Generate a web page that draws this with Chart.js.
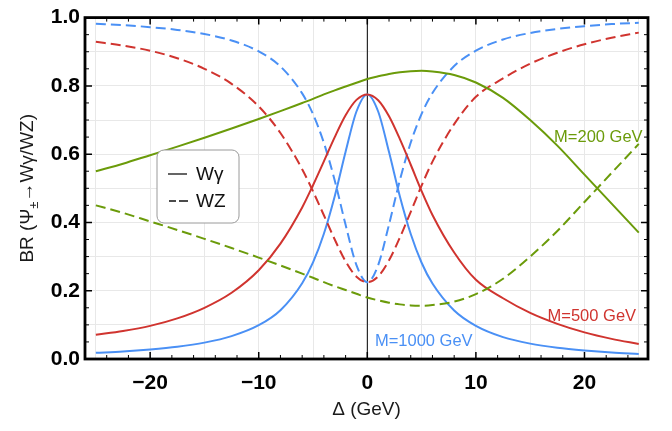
<!DOCTYPE html>
<html>
<head>
<meta charset="utf-8">
<script src="https://cdn.jsdelivr.net/npm/chart.js@4.4.1/dist/chart.umd.min.js"></script>
<style>
  html, body { margin: 0; padding: 0; background: #fff; }
  #wrap { width: 672px; height: 431px; }
</style>
</head>
<body>
<div id="wrap"><canvas id="brChart" width="672" height="431"></canvas></div>
<script>
// mass splitting values (GeV)
const deltas = [-25, -22.5, -20, -17.5, -15, -12.5, -10, -8, -6, -5, -4, -3, -2, -1, 0,
                1, 2, 3, 4, 5, 6, 8, 10, 12.5, 15, 17.5, 20, 22.5, 25];

// M = 200 GeV
const wg200 = [0.550, 0.572, 0.597, 0.622, 0.648, 0.675, 0.703, 0.726, 0.750, 0.762, 0.775, 0.787, 0.798, 0.809, 0.820,
               0.828, 0.835, 0.840, 0.843, 0.844, 0.842, 0.832, 0.810, 0.765, 0.700, 0.625, 0.540, 0.455, 0.370];
const wz200 = [0.450, 0.428, 0.403, 0.378, 0.352, 0.325, 0.297, 0.274, 0.250, 0.238, 0.225, 0.213, 0.202, 0.191, 0.180,
               0.172, 0.165, 0.160, 0.157, 0.156, 0.158, 0.168, 0.190, 0.235, 0.300, 0.375, 0.460, 0.545, 0.630];

// M = 500 GeV
const wg500 = [0.071, 0.082, 0.097, 0.119, 0.150, 0.194, 0.260, 0.338, 0.444, 0.509, 0.579, 0.650, 0.714, 0.759, 0.775,
               0.758, 0.711, 0.644, 0.569, 0.492, 0.422, 0.312, 0.232, 0.178, 0.135, 0.103, 0.078, 0.059, 0.044];
const wz500 = [0.929, 0.918, 0.903, 0.881, 0.850, 0.806, 0.740, 0.662, 0.556, 0.491, 0.421, 0.350, 0.286, 0.241, 0.225,
               0.242, 0.289, 0.356, 0.431, 0.508, 0.578, 0.688, 0.768, 0.822, 0.865, 0.897, 0.922, 0.941, 0.956];

// M = 1000 GeV
const wg1000 = [0.018, 0.022, 0.028, 0.036, 0.048, 0.067, 0.099, 0.143, 0.222, 0.283, 0.367, 0.477, 0.607, 0.725, 0.775,
                0.725, 0.606, 0.476, 0.366, 0.282, 0.221, 0.142, 0.097, 0.064, 0.045, 0.033, 0.025, 0.019, 0.015];
const wz1000 = [0.982, 0.978, 0.972, 0.964, 0.952, 0.933, 0.901, 0.857, 0.778, 0.717, 0.633, 0.523, 0.393, 0.275, 0.225,
                0.275, 0.394, 0.524, 0.634, 0.718, 0.779, 0.858, 0.903, 0.936, 0.955, 0.967, 0.975, 0.981, 0.985];

const xTickValues = [-25, -20, -15, -10, -5, 0, 5, 10, 15, 20, 25];
const massLabels = ["M=200 GeV", "M=500 GeV", "M=1000 GeV"];
const legendLabels = ["Wγ", "WZ"];

const green = "rgb(107,155,10)";
const red = "rgb(208,52,47)";
const blue = "rgb(74,144,245)";

Chart.defaults.font.family = "'Liberation Sans', Arial, sans-serif";

function pts(vals) {
    return deltas.map((d, i) => ({ x: d, y: vals[i] }));
}

function line(vals, color, dashed) {
    return {
        data: pts(vals),
        borderColor: color,
        borderWidth: 2,
        borderDash: dashed ? [10, 5] : [],
        pointRadius: 0,
        fill: false,
        cubicInterpolationMode: "monotone"
    };
}

const decorations = {
    id: "decorations",
    beforeDatasetsDraw(chart) {
        const ctx = chart.ctx, a = chart.chartArea;
        const x0 = chart.scales.x.getPixelForValue(0);
        ctx.save();
        ctx.strokeStyle = "#000";
        ctx.lineWidth = 1;
        ctx.beginPath();
        ctx.moveTo(x0, a.top);
        ctx.lineTo(x0, a.bottom);
        ctx.stroke();
        ctx.restore();
    },
    afterDraw(chart) {
        const ctx = chart.ctx, a = chart.chartArea;
        const xs = chart.scales.x, ys = chart.scales.y;
        ctx.save();

        // ticks pointing inwards on all four sides
        ctx.strokeStyle = "#000";
        for (let v = -24; v <= 24; v += 2) {
            const px = xs.getPixelForValue(v);
            const len = v % 10 === 0 ? 7 : 4;
            ctx.lineWidth = v % 10 === 0 ? 1.5 : 1;
            ctx.beginPath();
            ctx.moveTo(px, a.bottom); ctx.lineTo(px, a.bottom - len);
            ctx.moveTo(px, a.top); ctx.lineTo(px, a.top + len);
            ctx.stroke();
        }
        for (let k = 1; k < 20; k++) {
            const py = ys.getPixelForValue(k * 0.05);
            const len = k % 4 === 0 ? 7 : 4;
            ctx.lineWidth = k % 4 === 0 ? 1.5 : 1;
            ctx.beginPath();
            ctx.moveTo(a.left, py); ctx.lineTo(a.left + len, py);
            ctx.moveTo(a.right, py); ctx.lineTo(a.right - len, py);
            ctx.stroke();
        }

        // frame
        ctx.lineWidth = 2.8;
        ctx.strokeRect(a.left, a.top, a.right - a.left, a.bottom - a.top);

        // curve labels
        ctx.font = "16.5px 'Liberation Sans', Arial, sans-serif";
        ctx.textBaseline = "middle";
        ctx.textAlign = "left";
        ctx.fillStyle = green;
        ctx.fillText(massLabels[0], xs.getPixelForValue(17.2), ys.getPixelForValue(0.650));
        ctx.fillStyle = red;
        ctx.fillText(massLabels[1], xs.getPixelForValue(16.6), ys.getPixelForValue(0.125));
        ctx.fillStyle = blue;
        ctx.fillText(massLabels[2], xs.getPixelForValue(0.7), ys.getPixelForValue(0.052));

        // legend box
        const bx = 157, by = 150, bw = 82, bh = 73, r = 7;
        ctx.beginPath();
        ctx.moveTo(bx + r, by);
        ctx.arcTo(bx + bw, by, bx + bw, by + bh, r);
        ctx.arcTo(bx + bw, by + bh, bx, by + bh, r);
        ctx.arcTo(bx, by + bh, bx, by, r);
        ctx.arcTo(bx, by, bx + bw, by, r);
        ctx.closePath();
        ctx.fillStyle = "#fff";
        ctx.fill();
        ctx.strokeStyle = "#9a9a9a";
        ctx.lineWidth = 1;
        ctx.stroke();

        ctx.strokeStyle = "#111";
        ctx.lineWidth = 1.3;
        ctx.beginPath();
        ctx.moveTo(168, 174); ctx.lineTo(187, 174);
        ctx.stroke();
        ctx.beginPath();
        ctx.moveTo(169, 201); ctx.lineTo(176, 201);
        ctx.moveTo(179, 201); ctx.lineTo(188, 201);
        ctx.stroke();
        ctx.fillStyle = "#111";
        ctx.font = "19px 'Liberation Sans', Arial, sans-serif";
        ctx.textBaseline = "alphabetic";
        ctx.fillText(legendLabels[0], 196, 180);
        ctx.fillText(legendLabels[1], 196, 207);

        // y axis title with subscript
        ctx.translate(28, (a.top + a.bottom) / 2);
        ctx.rotate(-Math.PI / 2);
        ctx.fillStyle = "#1a1a1a";
        const big = "19px 'Liberation Sans', Arial, sans-serif";
        const small = "13px 'Liberation Sans', Arial, sans-serif";
        const p1 = "BR (Ψ", p2 = "±", p3 = "→Wγ/WZ)";
        ctx.font = big;
        const w1 = ctx.measureText(p1).width, w3 = ctx.measureText(p3).width;
        ctx.font = small;
        const w2 = ctx.measureText(p2).width;
        let tx = -(w1 + w2 + w3) / 2;
        ctx.textBaseline = "middle";
        ctx.font = big;
        ctx.fillText(p1, tx, 0);
        ctx.font = small;
        ctx.fillText(p2, tx + w1, 6);
        ctx.font = big;
        ctx.fillText(p3, tx + w1 + w2, 0);
        ctx.restore();
    }
};

const ctx = document.getElementById("brChart").getContext("2d");
const brChart = new Chart(ctx, {
    type: "line",
    data: {
        datasets: [
            line(wg200, green, false),
            line(wz200, green, true),
            line(wg500, red, false),
            line(wz500, red, true),
            line(wg1000, blue, false),
            line(wz1000, blue, true)
        ]
    },
    options: {
        responsive: false,
        animation: false,
        devicePixelRatio: 1,
        layout: { padding: { left: 0, right: 24, top: 15, bottom: 0 } },
        plugins: { legend: { display: false }, tooltip: { enabled: false } },
        scales: {
            x: {
                type: "linear",
                min: -26,
                max: 25.85,
                afterBuildTicks: s => { s.ticks = xTickValues.map(v => ({ value: v })); },
                afterFit: s => { s.height = 72; },
                grid: { color: "#e8e8e8", lineWidth: 1, drawTicks: false },
                border: { display: false },
                ticks: {
                    padding: 12,
                    color: "#000",
                    font: { size: 21, weight: "bold" },
                    callback: v => v % 10 === 0 ? (v < 0 ? "\u2212" + Math.abs(v) : String(v)) : ""
                },
                title: {
                    display: true,
                    text: "Δ (GeV)",
                    color: "#1a1a1a",
                    font: { size: 19 },
                    padding: { top: 0, bottom: 10 }
                }
            },
            y: {
                min: 0,
                max: 1,
                afterFit: s => { s.width = 85; },
                grid: { color: "#e8e8e8", lineWidth: 1, drawTicks: false },
                border: { display: false },
                ticks: {
                    stepSize: 0.1,
                    padding: 5,
                    color: "#000",
                    font: { size: 21, weight: "bold" },
                    callback: v => Math.round(v * 10) % 2 === 0 ? v.toFixed(1) : ""
                }
            }
        }
    },
    plugins: [decorations]
});
</script>
</body>
</html>
